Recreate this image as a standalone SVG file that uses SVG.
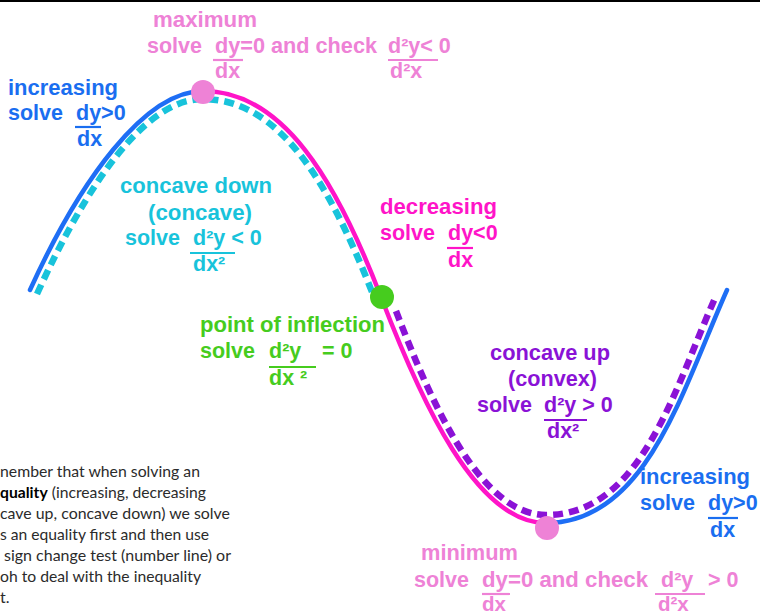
<svg xmlns="http://www.w3.org/2000/svg" width="760" height="615" viewBox="0 0 760 615">
<style>
.t{font-family:"Liberation Sans",Arial,sans-serif;font-weight:bold;font-size:21.5px}
.pk{fill:#EE82D6}.bl{fill:#1A6EF0}.cy{fill:#18C3DB}.mg{fill:#FF14C8}.gr{fill:#46CC1E}.pu{fill:#8A12D6}
.bar{stroke-width:2.2}
.body{font-family:Lato,"Open Sans",sans-serif;font-size:16px;fill:#2b2b2b}
</style>
<rect x="0" y="0" width="760" height="2" fill="#000"/>
<g id="connectors" fill="none">
<path d="M30,290 C80,180 145,91 203,91" stroke="#1E6EF5" stroke-width="4.5" stroke-linecap="round"/>
<path d="M203,91 C283,91 336,180 381,297 C421,401 476,523 546,523" stroke="#FF14C8" stroke-width="4.5" stroke-linecap="round"/>
<path d="M546,523 C646,523 682,391 727,290" stroke="#1E6EF5" stroke-width="4.5" stroke-linecap="round"/>
<path d="M37,294 C87,184 145,99 203,99 C280,99 330,185 372,292" stroke="#18C3DB" stroke-width="6.5" stroke-dasharray="10 6"/>
<path d="M396,311 C432,405 481,515 546,515 C642,515 675,387 716,296" stroke="#8A12D6" stroke-width="6.5" stroke-dasharray="10 6"/>
</g>
<g id="max-point"><circle cx="203" cy="92" r="12" fill="#EE82D6"/></g>
<g id="inflection-point"><circle cx="382" cy="297" r="12" fill="#46CC1E"/></g>
<g id="min-point"><circle cx="547" cy="528" r="12" fill="#EE82D6"/></g>
<g id="maximum" class="t pk">
<text x="153" y="27" textLength="104" lengthAdjust="spacingAndGlyphs">maximum</text>
<text x="147" y="53">solve</text>
<text x="215" y="53" textLength="162" lengthAdjust="spacingAndGlyphs">dy=0 and check</text>
<text x="388" y="53">d²y&lt; 0</text>
<line class="bar" x1="213" y1="60" x2="243" y2="60" stroke="#EE82D6"/>
<text x="215" y="78">dx</text>
<line class="bar" x1="388" y1="60" x2="438" y2="60" stroke="#EE82D6"/>
<text x="390" y="78">d²x</text>
</g>
<g id="increasing-left" class="t bl">
<text x="8" y="95" textLength="110" lengthAdjust="spacingAndGlyphs">increasing</text>
<text x="8" y="120">solve</text>
<text x="76" y="120">dy&gt;0</text>
<line class="bar" x1="75" y1="127" x2="101" y2="127" stroke="#1A6EF0"/>
<text x="77" y="146">dx</text>
</g>
<g id="concave-down" class="t cy">
<text x="120" y="193" textLength="152" lengthAdjust="spacingAndGlyphs">concave down</text>
<text x="148" y="220" textLength="104" lengthAdjust="spacingAndGlyphs">(concave)</text>
<text x="125" y="245">solve</text>
<text x="193" y="245">d²y &lt; 0</text>
<line class="bar" x1="190" y1="253" x2="235" y2="253" stroke="#18C3DB"/>
<text x="193" y="271">dx²</text>
</g>
<g id="decreasing" class="t mg">
<text x="380" y="214" textLength="117" lengthAdjust="spacingAndGlyphs">decreasing</text>
<text x="380" y="240">solve</text>
<text x="448" y="240">dy&lt;0</text>
<line class="bar" x1="447" y1="248" x2="473" y2="248" stroke="#FF14C8"/>
<text x="448" y="267">dx</text>
</g>
<g id="inflection" class="t gr">
<text x="200" y="332" textLength="185" lengthAdjust="spacingAndGlyphs">point of inflection</text>
<text x="200" y="358">solve</text>
<text x="269" y="358">d²y</text>
<text x="322" y="358">= 0</text>
<line class="bar" x1="269" y1="367" x2="316" y2="367" stroke="#46CC1E"/>
<text x="269" y="385">dx ²</text>
</g>
<g id="concave-up" class="t pu">
<text x="490" y="360" textLength="120" lengthAdjust="spacingAndGlyphs">concave up</text>
<text x="508" y="386" textLength="89" lengthAdjust="spacingAndGlyphs">(convex)</text>
<text x="477" y="412">solve</text>
<text x="544" y="412">d²y &gt; 0</text>
<line class="bar" x1="544" y1="420" x2="587" y2="420" stroke="#8A12D6"/>
<text x="547" y="438">dx²</text>
</g>
<g id="increasing-right" class="t bl">
<text x="640" y="484" textLength="110" lengthAdjust="spacingAndGlyphs">increasing</text>
<text x="640" y="510">solve</text>
<text x="708" y="510">dy&gt;0</text>
<line class="bar" x1="708" y1="518" x2="738" y2="518" stroke="#1A6EF0"/>
<text x="710" y="537">dx</text>
</g>
<g id="minimum" class="t pk">
<text x="421" y="560" textLength="97" lengthAdjust="spacingAndGlyphs">minimum</text>
<text x="414" y="587">solve</text>
<text x="482" y="587" textLength="166" lengthAdjust="spacingAndGlyphs">dy=0 and check</text>
<text x="661" y="587">d²y</text>
<text x="708" y="587">&gt; 0</text>
<line class="bar" x1="482" y1="594" x2="510" y2="594" stroke="#EE82D6"/>
<line class="bar" x1="655" y1="594" x2="705" y2="594" stroke="#EE82D6"/>
<text x="482" y="611" font-size="20.5">dx</text>
<text x="658" y="611" font-size="20.5">d²x</text>
</g>
<g id="note" class="body">
<text x="0" y="477" textLength="200" lengthAdjust="spacingAndGlyphs">nember that when solving an</text>
<text x="0" y="498" textLength="206" lengthAdjust="spacingAndGlyphs"><tspan font-weight="bold" fill="#000">quality</tspan> (increasing, decreasing</text>
<text x="0" y="519" textLength="230" lengthAdjust="spacingAndGlyphs">cave up, concave down) we solve</text>
<text x="0" y="540" textLength="209" lengthAdjust="spacingAndGlyphs">s an equality first and then use</text>
<text x="4" y="561" textLength="227" lengthAdjust="spacingAndGlyphs">sign change test (number line) or</text>
<text x="0" y="582" textLength="201" lengthAdjust="spacingAndGlyphs">oh to deal with the inequality</text>
<text x="0" y="603">t.</text>
</g>
</svg>
